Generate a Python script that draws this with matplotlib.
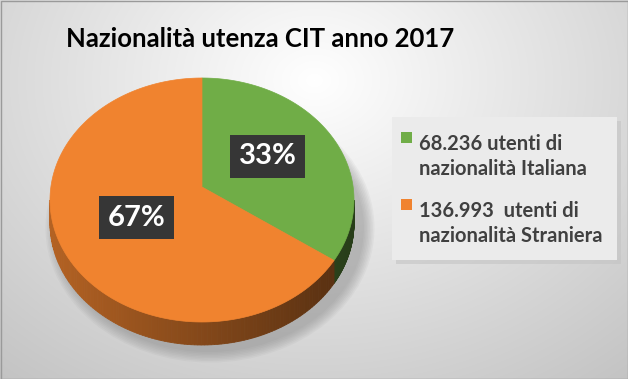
import numpy as np
import matplotlib.pyplot as plt
from matplotlib.patches import Polygon, Rectangle, Ellipse
from matplotlib.colors import to_rgb

# data
title = "Nazionalità utenza CIT anno 2017"
labels = ["68.236 utenti di\nnazionalità Italiana", "136.993  utenti di\nnazionalità Straniera"]
users = np.array([68236, 136993])
colors = ["#70AD47", "#F0832F"]

FONT = ["Lato", "DejaVu Sans"]

W, H = 628, 379
fig = plt.figure(figsize=(6.28, 3.79), dpi=100)
ax = fig.add_axes([0, 0, 1, 1])
ax.set_xlim(0, W)
ax.set_ylim(H, 0)
ax.axis("off")

# gray gradient background
yy, xx = np.mgrid[0:H, 0:W]
d = np.sqrt(((xx - 314) / 420.0) ** 2 + ((yy - 80) / 330.0) ** 2)
g = np.clip(1.0 - 0.2 * d, 0, 1)
ax.imshow(np.dstack([g, g, g]), extent=(0, W, H, 0), aspect="auto", zorder=0)
ax.add_patch(Rectangle((0.5, 0.5), W - 1, H - 1, fill=False, ec="#9a9a9a", lw=1, zorder=10))

# pie geometry (pixels)
cx, cy, a, b, depth = 202, 200, 152, 122, 23
apx, apy = 202, 187

def ell(t):
    t = np.radians(t)
    return cx + a * np.cos(t), cy - b * np.sin(t)

# soft shadow
for k in range(8):
    ax.add_patch(Ellipse((cx + 8, cy + depth + 5), 2 * a + 4 + 3 * k, 2 * b + 4 + 3 * k,
                         fc="#808080", ec="none", alpha=0.07, zorder=1))

frac = users / users.sum()
starts = 90 - 360 * np.concatenate([[0], np.cumsum(frac)[:-1]])
ends = starts - 360 * frac

# side walls
for s, e, c in zip(starts, ends, colors):
    lo, hi = max(e, -180), min(s, 0)
    if lo >= hi:
        continue
    base = np.array(to_rgb(c))
    ts = np.linspace(lo, hi, 120)
    for t0, t1 in zip(ts[:-1], ts[1:]):
        x0, y0 = ell(t0)
        x1, y1 = ell(t1)
        f = 0.55 - 0.2 * np.cos(np.radians((t0 + t1) / 2))
        ax.add_patch(Polygon([(x0, y0), (x1, y1), (x1, y1 + depth), (x0, y0 + depth)],
                             closed=True, fc=base * f, ec=base * f, lw=0.6, zorder=2))

# top faces
for s, e, c in zip(starts, ends, colors):
    ts = np.linspace(s, e, 200)
    xs, ys = ell(ts)
    pts = [(apx, apy)] + list(zip(xs, ys))
    ax.add_patch(Polygon(pts, closed=True, fc=c, ec=c, lw=0.5, zorder=3))

# percentage labels
for s, e, f in zip(starts, ends, frac):
    m = np.radians((s + e) / 2)
    lx = apx + 0.5 * a * np.cos(m)
    ly = apy - 0.5 * b * np.sin(m)
    ax.text(lx, ly, f"{f * 100:.0f}%", ha="center", va="center", color="white",
            fontsize=21, fontweight="bold", family=FONT, zorder=6,
            bbox=dict(boxstyle="square,pad=0.3", fc="#363636", ec="none"))

# title
ax.text(260, 47, title, ha="center", va="baseline", fontsize=18.5, fontweight="bold",
        color="black", family=FONT, zorder=6)

# legend box
ax.add_patch(Rectangle((396, 121), 225, 143, fc="#c4c4c4", ec="none", alpha=0.6, zorder=4))
ax.add_patch(Rectangle((392, 117), 225, 143, fc="#ebebeb", ec="none", zorder=4))
for i, (lab, c) in enumerate(zip(labels, colors)):
    y0 = 150 + i * 67
    ax.add_patch(Rectangle((401, y0 - 18), 11, 11, fc=c, ec="none", zorder=5))
    l1, l2 = lab.split("\n")
    ax.text(419, y0, l1, ha="left", va="baseline", fontsize=14.5, fontweight="bold",
            color="#404040", family=FONT, zorder=6)
    ax.text(419, y0 + 25, l2, ha="left", va="baseline", fontsize=14.5, fontweight="bold",
            color="#404040", family=FONT, zorder=6)

fig.savefig("out.png", dpi=100)
